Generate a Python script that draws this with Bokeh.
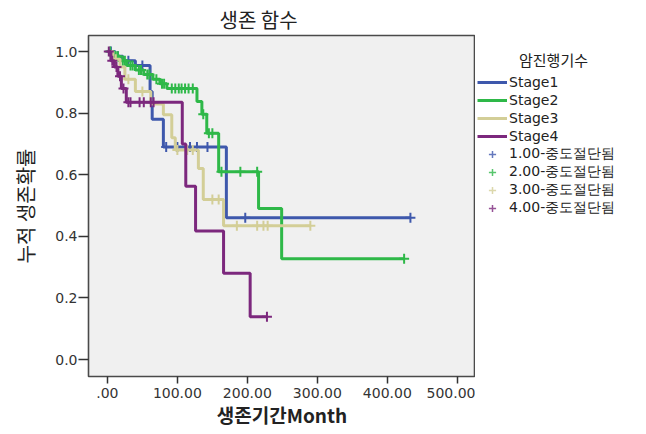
import numpy as np
from bokeh.plotting import figure
from bokeh.layouts import row
from bokeh.models import Range1d, Legend, LegendItem, FixedTicker, Label
from bokeh.embed import file_html
from bokeh.resources import INLINE

# ---------------- data ----------------
legend_title = "암진행기수"
stage_labels = ["Stage1", "Stage2", "Stage3", "Stage4"]
censor_labels = ["1.00-중도절단됨", "2.00-중도절단됨", "3.00-중도절단됨", "4.00-중도절단됨"]

s1_time = [0, 10, 22, 40, 61, 64, 80, 170]
s1_surv = [1.0, 0.985, 0.97, 0.955, 0.87, 0.78, 0.69, 0.46]
s1_end = 433
s1_cens = [5, 15, 30, 50, 84, 100, 118, 128, 143, 197, 433]

s2_time = [0, 8, 18, 28, 40, 52, 65, 75, 85, 128, 135, 142, 159, 216, 249]
s2_surv = [1.0, 0.985, 0.97, 0.955, 0.94, 0.925, 0.91, 0.895, 0.88, 0.838, 0.796, 0.735, 0.61, 0.49, 0.327]
s2_end = 424
s2_cens = [4, 12, 15, 22, 25, 33, 36, 45, 48, 57, 60, 70, 78, 81, 92, 97, 102, 106,
           111, 116, 122, 137, 145, 150, 163, 190, 214, 424]

s3_time = [0, 8, 18, 25, 40, 62, 80, 92, 97, 130, 137, 166]
s3_surv = [1.0, 0.975, 0.95, 0.91, 0.87, 0.83, 0.795, 0.72, 0.68, 0.62, 0.52, 0.434]
s3_end = 290
s3_cens = [12, 30, 50, 100, 114, 122, 150, 159, 185, 214, 223, 229, 290]

s4_time = [0, 5, 10, 15, 20, 27, 107, 112, 126, 166, 204]
s4_surv = [1.0, 0.97, 0.95, 0.92, 0.88, 0.835, 0.70, 0.563, 0.417, 0.28, 0.139]
s4_end = 228
s4_cens = [2, 7, 13, 18, 23, 30, 33, 46, 52, 62, 66, 228]

x_ticks = [0, 100, 200, 300, 400, 500]
x_tick_labels = [".00", "100.00", "200.00", "300.00", "400.00", "500.00"]
y_ticks = [0.0, 0.2, 0.4, 0.6, 0.8, 1.0]
y_tick_labels = ["0.0", "0.2", "0.4", "0.6", "0.8", "1.0"]

colors = ["#3E58AC", "#2EB848", "#D3CE97", "#7C287D"]

series = [
    (s1_time, s1_surv, s1_end, s1_cens),
    (s2_time, s2_surv, s2_end, s2_cens),
    (s3_time, s3_surv, s3_end, s3_cens),
    (s4_time, s4_surv, s4_end, s4_cens),
]

LAT = "DejaVu Sans"
KR = "Noto Sans CJK KR"

# ---------------- main plot ----------------
p = figure(width=475, height=434, output_backend="svg", toolbar_location=None,
           x_range=Range1d(-27, 526), y_range=Range1d(-0.055, 1.052),
           min_border_left=88, min_border_right=0, min_border_top=34, min_border_bottom=58,
           background_fill_color="#F0F0F0", border_fill_color="white")

p.title.text = "생존 함수"
p.title.align = "left"
p.title.offset = 131
p.title.text_font = KR
p.title.text_font_size = "20px"
p.title.text_font_style = "normal"
p.title.text_color = "#222222"
p.title.standoff = 4

p.outline_line_color = "#4a4a4a"
p.outline_line_width = 1.6
p.xgrid.visible = False
p.ygrid.visible = False

p.xaxis.ticker = FixedTicker(ticks=x_ticks)
p.xaxis.major_label_overrides = dict(zip(x_ticks, x_tick_labels))
p.yaxis.ticker = FixedTicker(ticks=y_ticks)
p.yaxis.major_label_overrides = dict(zip(y_ticks, y_tick_labels))
for ax in (p.xaxis, p.yaxis):
    ax.axis_line_color = None
    ax.minor_tick_line_color = None
    ax.major_tick_in = 0
    ax.major_tick_line_color = "#333333"
    ax.major_tick_line_width = 1.5
    ax.major_label_text_font = LAT
    ax.major_label_text_font_size = "14px"
    ax.major_label_text_color = "#333333"
    ax.axis_label_text_font = KR
    ax.axis_label_text_color = "#222222"
p.xaxis.major_tick_out = 7
p.xaxis.major_label_standoff = 4
p.yaxis.major_tick_out = 10
p.yaxis.major_label_standoff = 1

p.xaxis.axis_label = "생존기간Month"
p.xaxis.axis_label_text_font_size = "19px"
p.xaxis.axis_label_text_font_style = "bold"
p.xaxis.axis_label_standoff = 0
p.yaxis.axis_label = "누적 생존확률"
p.yaxis.axis_label_text_font_size = "20px"
p.yaxis.axis_label_text_font_style = "normal"
p.yaxis.axis_label_standoff = 12


def km_at(times, surv, t):
    idx = np.searchsorted(np.asarray(times), t, side="right") - 1
    return float(np.asarray(surv)[idx])


for (tm, sv, end, cens), col in zip(series, colors):
    xs = list(tm) + [end]
    ys = list(sv) + [sv[-1]]
    p.step(xs, ys, mode="after", line_color=col, line_width=3)
    cy = [km_at(tm, sv, c) for c in cens]
    p.scatter(cens, cy, marker="cross", size=10, line_color=col, line_width=2)

# ---------------- legend panel (separate figure to the right) ----------------
lg = figure(width=171, height=434, output_backend="svg", toolbar_location=None,
            title=None,
            x_range=Range1d(0, 171), y_range=Range1d(0, 434),
            x_axis_type=None, y_axis_type=None,
            min_border_left=0, min_border_right=0, min_border_top=0, min_border_bottom=0,
            background_fill_color="white", border_fill_color="white")
lg.outline_line_color = None

step_items = []
cens_items = []
for col, lab, clab in zip(colors, stage_labels, censor_labels):
    r = lg.step([np.nan], [np.nan], mode="after", line_color=col, line_width=3)
    rc = lg.scatter([np.nan], [np.nan], marker="cross", size=10, line_color=col,
                    line_width=1.5, line_alpha=0.8)
    step_items.append(LegendItem(label=lab, renderers=[r]))
    cens_items.append(LegendItem(label=clab, renderers=[rc]))

legend = Legend(items=step_items + cens_items, location=(2, 159),
                glyph_width=30, glyph_height=18, label_height=18, spacing=0,
                label_standoff=2, padding=0, margin=0,
                label_text_font=LAT, label_text_font_size="14px",
                label_text_color="#222222",
                border_line_color=None, background_fill_alpha=0)
lg.add_layout(legend, "center")

lg.add_layout(Label(x=78, y=403, text=legend_title,
                    text_font=KR, text_font_size="15px",
                    text_color="#222222", text_align="center", text_baseline="middle"))

layout = row(p, lg, spacing=0)
open("out.html", "w").write(file_html(layout, INLINE))
